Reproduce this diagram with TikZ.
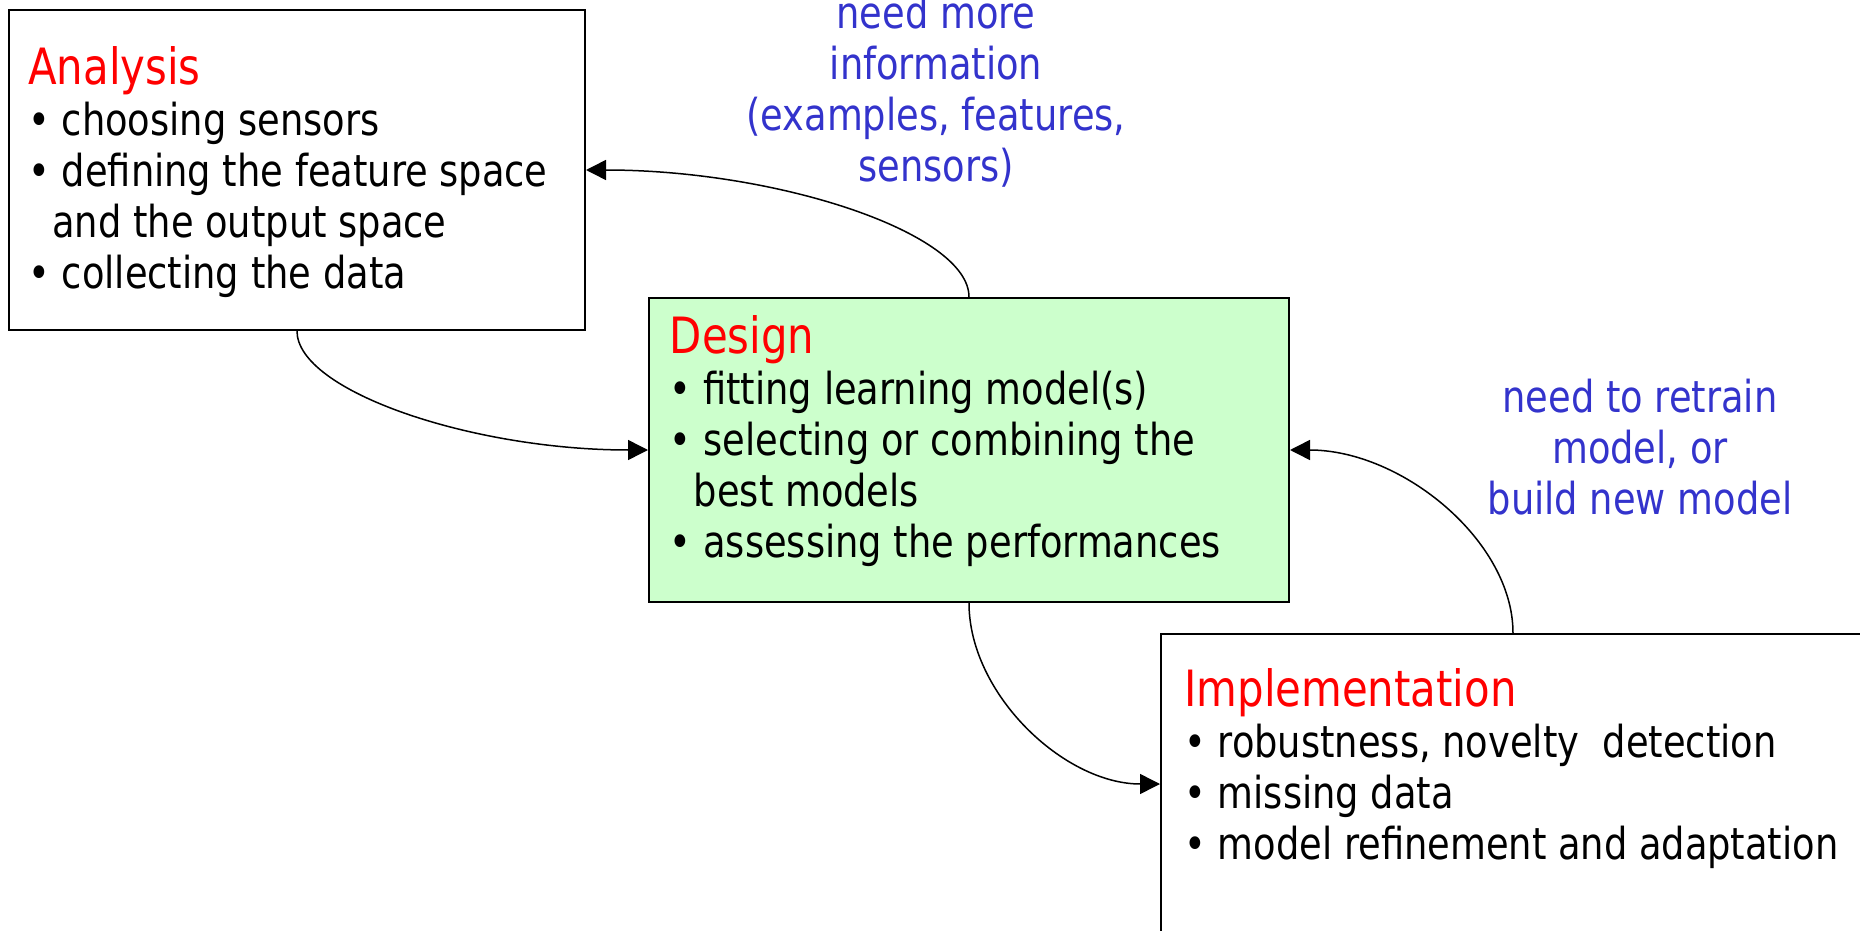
\documentclass[tikz,border=0pt]{standalone}
\usepackage{fontspec}
\setmainfont[FakeStretch=0.93]{DejaVu Sans Condensed}
\usetikzlibrary{arrows.meta,positioning}

\definecolor{titlered}{RGB}{255,0,0}
\definecolor{noteblue}{RGB}{51,51,204}
\definecolor{stagegreen}{RGB}{204,255,204}

\tikzset{
  stage/.style={draw, line width=1pt, inner sep=0pt, anchor=north west},
  stagetext/.style={anchor=north west, inner sep=0pt, align=left, font=\fontsize{22}{25.5}\selectfont},
  note/.style={anchor=north, inner sep=0pt, align=center, text=noteblue, font=\fontsize{22}{25.5}\selectfont},
  flow/.style={line width=0.75pt, -{Triangle[length=10pt,width=10pt]}},
}
\newcommand{\steptitle}[1]{{\fontsize{25}{25.5}\selectfont\textcolor{titlered}{#1}}}
\newcommand{\wrapindent}{\hspace*{12pt}}

\begin{document}
\begin{tikzpicture}[x=0.5pt,y=0.5pt]
\useasboundingbox (0,0) rectangle (1860,-931);
\clip (0,0) rectangle (1860,-931);
% the three stages
\node[stage, minimum width=288pt, minimum height=160pt] (analysis) at (8,-9) {};
\node[stage, fill=stagegreen, minimum width=320pt, minimum height=152pt] (design) at (648,-297) {};
\node[stage, minimum width=352pt, minimum height=150pt] (impl) at (1160,-633) {};

\node[stagetext, below right=18.5pt and 10pt of analysis.north west] (analysistext) {\steptitle{Analysis}\\
  \textbullet\ choosing sensors\\
  \textbullet\ defining the feature space\\
  \wrapindent and the output space\\
  \textbullet\ collecting the data};
\node[stagetext, below right=9pt and 10.75pt of design.north west] (designtext) {\steptitle{Design}\\
  \textbullet\ fitting learning model(s)\\
  \textbullet\ selecting or combining the\\
  \wrapindent best models\\
  \textbullet\ assessing the performances};
\node[stagetext, below right=17.5pt and 12pt of impl.north west] (impltext) {\steptitle{Implementation}\\
  \textbullet\ robustness, novelty\ \ detection\\
  \textbullet\ missing data\\
  \textbullet\ model refinement and adaptation};

% feedback notes
\node[note] (moreinfo) at (936,5) {need more\\information\\(examples, features,\\sensors)};
\node[note] (retrain) at (1640,-379) {need to retrain\\model, or\\build new model};

% connectors
\draw[flow] (design.north) .. controls +(0,64) and +(192,0) .. (analysis.east);
\draw[flow] (analysis.south) .. controls +(0,-60) and +(-176,0) .. (design.west);
\draw[flow] (design.south) .. controls +(0,-91) and +(-96,0) .. (impl.west);
\draw[flow] (impl.north) .. controls +(0,92) and +(112,0) .. (design.east);
\end{tikzpicture}
\end{document}
